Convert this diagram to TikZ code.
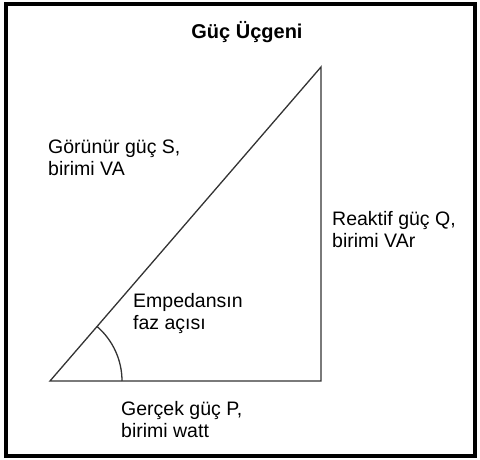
\documentclass[tikz,border=0pt]{standalone}
\usepackage{fontspec}
\setmainfont{Liberation Sans}
\tikzset{
	lbl/.style={anchor=north west, inner sep=0pt, align=left, font=\fontsize{19.5}{22}\selectfont},
	side/.style={line width=1.3pt, black!80, line join=miter}
}
\begin{document}
\begin{tikzpicture}[x=1pt, y=1pt, >=latex]
		\useasboundingbox (0,0) rectangle (480,460);
		\draw[line width=3.5pt] (6,4) rectangle (475,456);
		\node[font=\fontsize{20}{22}\selectfont\bfseries] (title) at (247,428) {Güç Üçgeni};
		\coordinate (A) at (50,79);
		\coordinate (B) at (321,79);
		\coordinate (C) at (321,393);
		\draw[side] (A) -- (B) -- (C) -- cycle;
		\draw[side] ([xshift=72pt]A) arc[start angle=0, end angle=49.2, radius=72pt];
		\node[lbl] (S) at (48,320) {Görünür güç S,\\birimi VA};
		\node[lbl] (Q) at (332,249) {Reaktif güç Q,\\birimi VAr};
		\node[lbl] (phi) at (133,167) {Empedansın\\faz açısı};
		\node[lbl] (P) at (121,59) {Gerçek güç P,\\birimi watt};
	\end{tikzpicture}
\end{document}
